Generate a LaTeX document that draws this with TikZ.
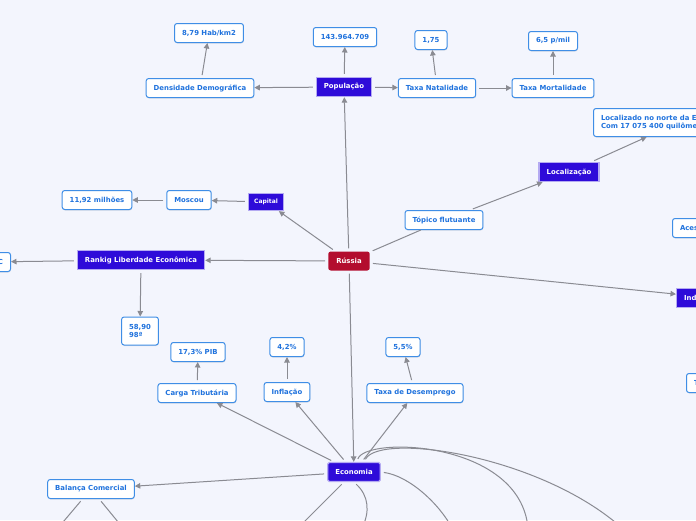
\documentclass[tikz,border=0pt]{standalone}
\usepackage{fontspec}
\setmainfont{DejaVu Sans}
\usetikzlibrary{arrows.meta,shadows}

\definecolor{pagebg}{HTML}{F3F5FD}
\definecolor{leafline}{HTML}{3F8EE6}
\definecolor{leaftext}{HTML}{1F72DD}
\definecolor{topicfill}{HTML}{2E0BD9}
\definecolor{topicline}{HTML}{B4AAF2}
\definecolor{rootfill}{HTML}{B30D2E}
\definecolor{linkgray}{HTML}{8A8B92}

\begin{document}
\begin{tikzpicture}[
  x=1pt, y=-1pt,
  >={Triangle[length=5.5pt,width=5.5pt]},
  font=\fontsize{6.9}{8.6}\selectfont\bfseries,
  leaf/.style={
    draw=leafline,
    fill=white,
    text=leaftext,
    rounded corners=2.5pt,
    line width=1pt,
    minimum height=19pt,
    inner xsep=7.5pt,
    align=left,
    drop shadow={opacity=0.18, shadow xshift=0.4pt, shadow yshift=-1pt}
  },
  topic/.style={
    draw=topicline,
    fill=topicfill,
    text=white,
    line width=1.3pt,
    minimum height=19pt,
    inner xsep=7.5pt
  },
  root/.style={
    fill=rootfill,
    text=white,
    rounded corners=2.5pt,
    minimum height=19pt,
    inner xsep=8pt
  },
  link/.style={
    draw=linkgray,
    line width=1pt,
    shorten <=3pt
  }
]
\useasboundingbox (0,0) rectangle (696,520);
\fill[pagebg] (0,0) rectangle (696,520);
\clip (0,0) rectangle (696,520);

% centre
\node[root] (rus) at (349,261) {Rússia};

% population branch
\node[topic] (pop) at (344,87) {População};
\node[leaf] (popnum) at (345,37) {143.964.709};
\node[leaf] (dens) at (200,88) {Densidade Demográfica};
\node[leaf] (densval) at (209,33) {8,79 Hab/km2};
\node[leaf] (natal) at (437,88) {Taxa Natalidade};
\node[leaf] (natalval) at (431,40) {1,75};
\node[leaf] (mort) at (553,88) {Taxa Mortalidade};
\node[leaf] (mortval) at (553,41) {6,5 p/mil};

% location branch
\node[topic] (loc) at (569,172) {Localização};
\node[leaf, anchor=north west, minimum height=28pt] (locdesc) at (593,108)
  {Localizado no norte da Eurásia\\Com 17 075 400 quilômetros quadrados};
\node[leaf] (float) at (444,220) {Tópico flutuante};

% capital branch
\node[topic, font=\fontsize{6}{7}\selectfont\bfseries, minimum height=17pt, inner xsep=5.5pt] (cap) at (266,202) {Capital};
\node[leaf] (moscow) at (189,200) {Moscou};
\node[leaf] (mospop) at (97,200) {11,92 milhões};

% ranking branch
\node[topic] (rank) at (141,260) {Rankig Liberdade Econômica};
\node[leaf, anchor=east, text width=40pt, align=right] (rankc) at (11,262) {C};
\node[leaf, minimum height=28pt] (rankval) at (140,331) {58,90\\98ª};

% cut at the right edge
\node[leaf, anchor=west, text width=60pt] (aces) at (672,228) {Aces};
\node[topic, anchor=west, text width=60pt, align=left] (ind) at (676,298) {Ind};
\node[leaf, anchor=west, text width=60pt] (tnode) at (686,383) {T};

% economy branch
\node[topic, rounded corners=1.5pt] (eco) at (354,472) {Economia};
\node[leaf] (tax) at (197,393) {Carga Tributária};
\node[leaf] (taxval) at (198,352) {17,3\% PIB};
\node[leaf] (infl) at (287,392) {Inflação};
\node[leaf] (inflval) at (287,347) {4,2\%};
\node[leaf] (unemp) at (415,393) {Taxa de Desemprego};
\node[leaf] (unempval) at (403,347) {5,5\%};
\node[leaf] (trade) at (91,489) {Balança Comercial};

% ends below the page
\coordinate (ecoA) at (298,528);
\coordinate (ecoB) at (362,528);
\coordinate (ecoC) at (452,528);
\coordinate (ecoD) at (528,528);
\coordinate (ecoE) at (622,528);
\coordinate (tradeA) at (58,528);
\coordinate (tradeB) at (123,528);

\draw[link,->] (rus) -- (pop);
\draw[link,->] (pop) -- (popnum);
\draw[link,->] (pop) -- (dens);
\draw[link,->] (dens) -- (densval);
\draw[link,->] (pop) -- (natal);
\draw[link,->] (natal) -- (natalval);
\draw[link,->] (natal) -- (mort);
\draw[link,->] (mort) -- (mortval);

\draw[link] (rus) -- (float);
\draw[link,->] (float) -- (loc);
\draw[link,->] (loc) -- (locdesc);

\draw[link,->] (rus) -- (cap);
\draw[link,->] (cap) -- (moscow);
\draw[link,->] (moscow) -- (mospop);

\draw[link,->] (rus) -- (rank);
\draw[link,->] (rank) -- (rankc);
\draw[link,->] (rank) -- (rankval);

\draw[link,->] (rus) -- (ind);
\draw[link,->] (rus) -- (eco);

\draw[link,->] (eco) -- (tax);
\draw[link,->] (tax) -- (taxval);
\draw[link,->] (eco) -- (infl);
\draw[link,->] (infl) -- (inflval);
\draw[link,->] (eco) -- (unemp);
\draw[link,->] (unemp) -- (unempval);
\draw[link,->] (eco) -- (trade);

\draw[link] (eco) -- (ecoA);
\draw[link] (eco.south) .. controls (369,496) and (370,512) .. (ecoB);
\draw[link] (eco.east) .. controls (410,476) and (440,505) .. (ecoC);
\draw[link] ([xshift=3pt]eco.north) .. controls (365,436) and (520,440) .. (ecoD);
\draw[link] ([xshift=10pt]eco.north) .. controls (380,432) and (540,455) .. (ecoE);
\draw[link] (trade) -- (tradeA);
\draw[link] (trade) -- (tradeB);
\end{tikzpicture}
\end{document}
